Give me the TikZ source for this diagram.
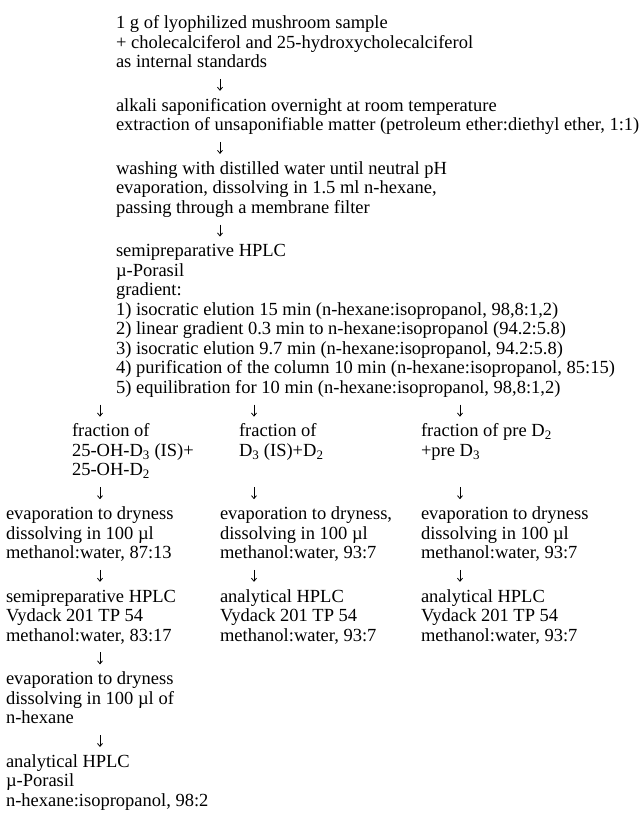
\documentclass[tikz,border=0pt]{standalone}
\usepackage{fontspec}
\setmainfont{Liberation Serif}
\usetikzlibrary{arrows.meta}
\begin{document}
\begin{tikzpicture}[x=1pt,y=-1pt,
  blk/.style={anchor=north west, inner sep=0pt, outer sep=0pt, align=left,
    font=\fontsize{18.5}{19.5}\selectfont},
  arr/.style={line width=0.8pt, -{Straight Barb[length=3pt,width=5pt]}}]
\useasboundingbox (0,0) rectangle (644,839);
% main column
\node[blk] (s1) at (116,14.85) {\strut 1 g of lyophilized mushroom sample\\+ cholecalciferol and 25-hydroxycholecalciferol\\as internal standards};
\node[blk] (s2) at (116,97.45) {\strut alkali saponification overnight at room temperature\\extraction of unsaponifiable matter (petroleum ether:diethyl ether, 1:1)};
\node[blk] (s3) at (116,160.55) {\strut washing with distilled water until neutral pH\\evaporation, dissolving in 1.5 ml n-hexane,\\passing through a membrane filter};
\node[blk] (s4) at (116,243.15) {\strut semipreparative HPLC\\µ-Porasil\\gradient:\\1) isocratic elution 15 min (n-hexane:isopropanol, 98,8:1,2)\\2) linear gradient 0.3 min to n-hexane:isopropanol (94.2:5.8)\\3) isocratic elution 9.7 min (n-hexane:isopropanol, 94.2:5.8)\\4) purification of the column 10 min (n-hexane:isopropanol, 85:15)\\5) equilibration for 10 min (n-hexane:isopropanol, 98,8:1,2)};
% fractions
\node[blk] (fl) at (72,423.25) {\strut fraction of\\25-OH-D\textsubscript{3} (IS)+\\25-OH-D\textsubscript{2}};
\node[blk] (fm) at (239,423.25) {\strut fraction of\\D\textsubscript{3} (IS)+D\textsubscript{2}};
\node[blk] (fr) at (421,423.25) {\strut fraction of pre D\textsubscript{2}\\+pre D\textsubscript{3}};
% evaporation
\node[blk] (el) at (6,505.85) {\strut evaporation to dryness\\dissolving in 100 µl\\methanol:water, 87:13};
\node[blk] (em) at (220,505.85) {\strut evaporation to dryness,\\dissolving in 100 µl\\methanol:water, 93:7};
\node[blk] (er) at (421,505.85) {\strut evaporation to dryness\\dissolving in 100 µl\\methanol:water, 93:7};
% HPLC
\node[blk] (hl) at (6,588.45) {\strut semipreparative HPLC\\Vydack 201 TP 54\\methanol:water, 83:17};
\node[blk] (hm) at (220,588.45) {\strut analytical HPLC\\Vydack 201 TP 54\\methanol:water, 93:7};
\node[blk] (hr) at (421,588.45) {\strut analytical HPLC\\Vydack 201 TP 54\\methanol:water, 93:7};
% left continuation
\node[blk] (e2) at (6,671.05) {\strut evaporation to dryness\\dissolving in 100 µl of\\n-hexane};
\node[blk] (an) at (6,753.65) {\strut analytical HPLC\\µ-Porasil\\n-hexane:isopropanol, 98:2};
% arrows
\foreach \n/\x/\c in {a1/220/84.8, a2/220/147.9, a3/220/230.5,
  a4/100/410.6, a5/254/410.6, a6/460/410.6,
  a7/100/493.2, a8/254/493.2, a9/460/493.2,
  a10/100/575.8, a11/254/575.8, a12/460/575.8,
  a13/100/658.4, a14/100/741}{
  \coordinate (\n t) at (\x,\c-6);
  \coordinate (\n b) at (\x,\c+6);
  \draw[arr] (\n t) -- (\n b);
}
\end{tikzpicture}
\end{document}
